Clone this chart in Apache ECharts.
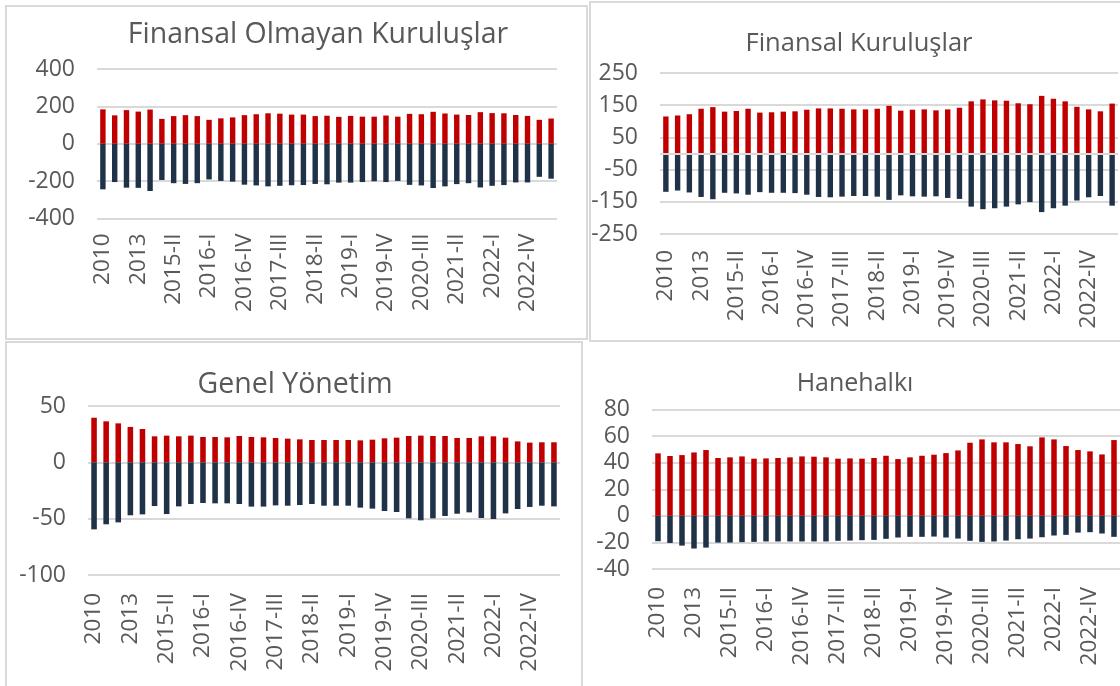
<!DOCTYPE html>
<html>
<head>
<meta charset="utf-8">
<script src="https://cdn.jsdelivr.net/npm/echarts@6/dist/echarts.min.js"></script>
<style>
  html, body { margin: 0; padding: 0; background: #fff; }
  #chart { width: 1120px; height: 686px; }
</style>
</head>
<body>
<div id="chart"></div>
<script>
// dönemler (x ekseni)
const categories = [
  "2010", "2011", "2012", "2013", "2014",
  "2015-I", "2015-II", "2015-III", "2015-IV",
  "2016-I", "2016-II", "2016-III", "2016-IV",
  "2017-I", "2017-II", "2017-III", "2017-IV",
  "2018-I", "2018-II", "2018-III", "2018-IV",
  "2019-I", "2019-II", "2019-III", "2019-IV",
  "2020-I", "2020-II", "2020-III", "2020-IV",
  "2021-I", "2021-II", "2021-III", "2021-IV",
  "2022-I", "2022-II", "2022-III", "2022-IV",
  "2023-I", "2023-II"
];

// Finansal Olmayan Kuruluşlar
const nonFinPos = [184, 152, 180, 172, 183, 133, 148, 153, 148, 128, 136, 141, 153, 158, 163, 161, 156, 156, 148, 150, 144, 149, 145, 145, 151, 145, 160, 158, 171, 162, 156, 154, 169, 164, 163, 154, 149, 128, 135];
const nonFinNeg = [-244, -205, -235, -236, -253, -194, -211, -215, -211, -191, -199, -203, -219, -223, -228, -225, -222, -221, -215, -217, -208, -208, -205, -201, -205, -199, -220, -223, -237, -228, -216, -211, -234, -225, -221, -207, -207, -177, -187];

// Finansal Kuruluşlar
const finPos = [115, 118, 122, 139, 144, 130, 132, 139, 127, 128, 130, 131, 136, 140, 140, 139, 137, 137, 139, 148, 133, 136, 137, 134, 137, 142, 162, 168, 165, 164, 156, 153, 179, 170, 162, 145, 137, 131, 155];
const finNeg = [-119, -115, -121, -135, -142, -122, -124, -128, -120, -122, -122, -123, -128, -135, -136, -134, -132, -132, -134, -144, -130, -133, -134, -133, -138, -141, -165, -173, -170, -165, -158, -151, -182, -170, -162, -146, -136, -132, -162];

// Genel Yönetim
const govPos = [39.6, 36.4, 34.6, 31.4, 29.6, 23.1, 23.7, 23.1, 23.7, 22.5, 22.5, 22.2, 23.4, 22.5, 22.2, 21.6, 21.0, 20.4, 19.8, 19.8, 19.8, 19.8, 19.5, 20.1, 21.3, 21.9, 23.4, 23.7, 23.4, 23.4, 21.6, 21.6, 23.1, 23.1, 21.9, 18.6, 17.5, 17.8, 17.8];
const govNeg = [-59.5, -55.0, -53.3, -47.0, -46.2, -38.8, -45.9, -39.1, -37.0, -36.1, -36.4, -36.4, -37.0, -39.3, -39.3, -38.2, -38.5, -37.9, -37.0, -38.5, -38.5, -38.5, -40.2, -41.1, -43.2, -44.1, -49.7, -51.5, -49.7, -47.6, -45.6, -44.4, -49.4, -50.3, -45.3, -41.4, -39.6, -38.5, -39.1];

// Hanehalkı
const hhPos = [47.0, 45.0, 45.7, 47.7, 49.5, 43.5, 44.0, 44.7, 43.0, 43.2, 43.5, 44.0, 44.7, 44.5, 44.0, 43.0, 43.2, 43.0, 43.5, 45.2, 42.7, 44.0, 45.2, 46.0, 47.2, 49.2, 55.0, 57.5, 55.3, 55.3, 54.0, 52.3, 59.0, 57.5, 52.5, 49.5, 48.5, 46.2, 57.0];
const hhNeg = [-19.1, -20.4, -22.4, -24.6, -23.9, -20.1, -20.1, -19.8, -19.6, -19.3, -19.3, -19.3, -19.3, -19.3, -19.3, -18.8, -18.6, -18.3, -18.1, -17.3, -16.3, -15.8, -15.8, -15.6, -16.3, -17.1, -18.8, -19.6, -19.3, -18.6, -17.6, -17.1, -16.1, -14.8, -14.3, -12.6, -12.3, -13.3, -15.8];

const RED = "#c00000";
const NAVY = "#1f3248";
const GRID_GRAY = "#d9d9d9";
const TEXT = "#595959";
const FONT = "'Open Sans', 'Noto Sans', sans-serif";

const panels = [
  { title: "Finansal Olmayan Kuruluşlar", titleX: 318, titleY: 33, titleSize: 28.5,
    grid: { left: 97, top: 69, width: 460, height: 149.5 },
    min: -400, max: 400, interval: 200, pos: nonFinPos, neg: nonFinNeg, zeroLine: false, labelMargin: 15 },
  { title: "Finansal Kuruluşlar", titleX: 859, titleY: 42, titleSize: 25.5,
    grid: { left: 660, top: 73, width: 458, height: 161 },
    min: -250, max: 250, interval: 100, pos: finPos, neg: finNeg, zeroLine: true, labelMargin: 16 },
  { title: "Genel Yönetim", titleX: 295, titleY: 383, titleSize: 28.5,
    grid: { left: 88, top: 406, width: 472, height: 169 },
    min: -100, max: 50, interval: 50, pos: govPos, neg: govNeg, zeroLine: false, labelMargin: 18 },
  { title: "Hanehalkı", titleX: 855, titleY: 382, titleSize: 25,
    grid: { left: 652, top: 409.5, width: 468, height: 159.5 },
    min: -40, max: 80, interval: 20, pos: hhPos, neg: hhNeg, zeroLine: false, labelMargin: 18 }
];

const option = {
  backgroundColor: "#fff",
  animation: false,
  textStyle: { fontFamily: FONT },
  title: [],
  grid: [],
  xAxis: [],
  yAxis: [],
  series: [],
  graphic: [
    // panel çerçeveleri
    { type: "rect", shape: { x: 6, y: 6, width: 581, height: 333 }, style: { fill: null, stroke: GRID_GRAY, lineWidth: 2 } },
    { type: "rect", shape: { x: 590, y: 2, width: 540, height: 339 }, style: { fill: null, stroke: GRID_GRAY, lineWidth: 2 } },
    { type: "rect", shape: { x: 6, y: 342, width: 576, height: 360 }, style: { fill: null, stroke: GRID_GRAY, lineWidth: 2 } }
  ]
};

panels.forEach((p, i) => {
  option.title.push({
    text: p.title,
    left: p.titleX,
    top: p.titleY - p.titleSize * 0.43,
    textAlign: "center",
    padding: 0,
    textStyle: { fontFamily: FONT, fontSize: p.titleSize, fontWeight: "normal", color: TEXT }
  });
  option.grid.push(Object.assign({ containLabel: false }, p.grid));
  option.xAxis.push({
    type: "category",
    gridIndex: i,
    data: categories,
    axisLine: { show: false, onZero: false },
    axisTick: { show: false },
    axisLabel: { rotate: 90, interval: 2, fontSize: 22.5, color: TEXT, margin: p.labelMargin, fontFamily: FONT }
  });
  option.yAxis.push({
    type: "value",
    gridIndex: i,
    min: p.min,
    max: p.max,
    interval: p.interval,
    axisLine: { show: false },
    axisTick: { show: false },
    axisLabel: { fontSize: 23, color: TEXT, margin: 22, fontFamily: FONT },
    splitLine: { lineStyle: { color: GRID_GRAY, width: 2 } }
  });
  const pos = {
    name: "Varlıklar",
    type: "bar",
    xAxisIndex: i,
    yAxisIndex: i,
    stack: "s" + i,
    barWidth: "46%",
    itemStyle: { color: RED },
    data: p.pos
  };
  if (p.zeroLine) {
    pos.markLine = {
      silent: true,
      symbol: "none",
      label: { show: false },
      lineStyle: { color: GRID_GRAY, width: 2, type: "solid" },
      data: [{ yAxis: 0 }]
    };
  }
  option.series.push(pos);
  option.series.push({
    name: "Yükümlülükler",
    type: "bar",
    xAxisIndex: i,
    yAxisIndex: i,
    stack: "s" + i,
    barWidth: "46%",
    itemStyle: { color: NAVY },
    data: p.neg
  });
});

const chart = echarts.init(document.getElementById("chart"), null, { renderer: "canvas" });
chart.setOption(option);
</script>
</body>
</html>
